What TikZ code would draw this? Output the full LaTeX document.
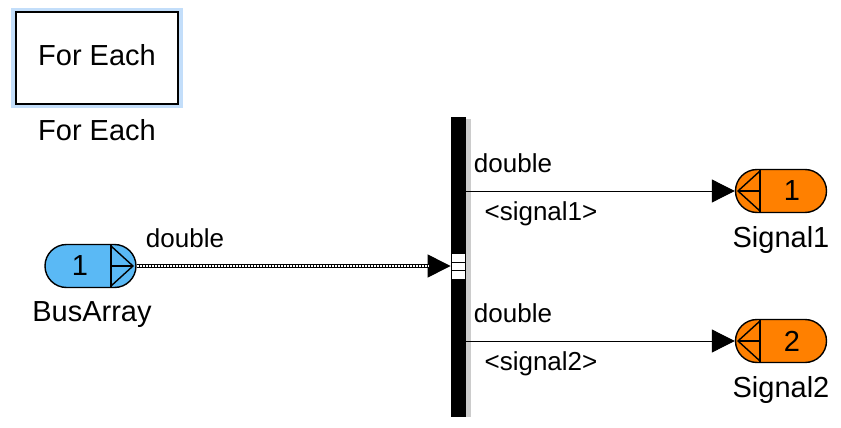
\documentclass[tikz,border=0pt]{standalone}
\usepackage{fontspec}
\setmainfont{Liberation Sans}
\usetikzlibrary{arrows.meta,shapes.misc}
\definecolor{inblue}{RGB}{90,185,245}
\definecolor{outorange}{RGB}{255,128,0}
\definecolor{selglow}{RGB}{195,222,250}
\tikzset{
  port/.style={rounded rectangle, draw, line width=0.7pt, minimum width=45.5pt, minimum height=21.5pt, inner sep=0pt},
  inport/.style={port, fill=inblue},
  outport/.style={port, fill=outorange},
  lbl/.style={font=\fontsize{13}{15}\selectfont},
  blkname/.style={font=\fontsize{14.5}{17}\selectfont},
  sig/.style={line width=0.5pt, -{Triangle[length=11.5pt,width=11.5pt]}},
}
\begin{document}
\begin{tikzpicture}[x=0.5pt,y=-0.5pt]
\useasboundingbox (0,0) rectangle (841,428);
% for each block
\fill[selglow] (11,8) rectangle (183,108);
\node[draw, fill=white, line width=0.8pt, minimum width=81pt, minimum height=46pt, inner sep=0pt] (fe) at (97,58) {};
\node[blkname] (fetext) at (97,55) {For Each};
\node[blkname] (fename) at (97,130) {For Each};
% bus selector
\fill[black!20] (466,119) rectangle (471,417);
\node[fill=black, minimum width=7.5pt, minimum height=150pt, inner sep=0pt] (bsel) at (458.5,267) {};
\fill[white] (452,254) rectangle (465,279);
\draw[line width=0.5pt] (452,262.5) -- (465,262.5); \draw[line width=0.5pt] (452,270.5) -- (465,270.5);
% inport
\node[inport] (in1) at (90.5,266) {};
\draw[line width=0.7pt] (111,245) -- (111,287);
\draw[line width=0.7pt] (111,246) -- (133,266) -- (111,286); \draw[line width=0.7pt] (111,266) -- (133,266);
\node[blkname] (in1num) at (80,266) {1};
\node[blkname] (in1name) at (92,315) {BusArray};
% outports
\node[outport] (out1) at (781,191) {};
\draw[line width=0.7pt] (760,170) -- (760,212);
\draw[line width=0.7pt] (760,171) -- (738,191) -- (760,211); \draw[line width=0.7pt] (738,191) -- (760,191);
\node[blkname] (out1num) at (792,191) {1};
\node[blkname] (out1name) at (781,240) {Signal1};
\node[outport] (out2) at (781,341) {};
\draw[line width=0.7pt] (760,320) -- (760,362);
\draw[line width=0.7pt] (760,321) -- (738,341) -- (760,361); \draw[line width=0.7pt] (738,341) -- (760,341);
\node[blkname] (out2num) at (792,341) {2};
\node[blkname] (out2name) at (781,390) {Signal2};
% signals
\draw[sig] (in1.east) -- (bsel.west |- in1.east);
\draw[line width=2pt, shorten >=11pt] (in1.east) -- (bsel.west |- in1.east);
\draw[white, line width=0.8pt, dash pattern=on 1pt off 0.5pt, shorten >=11pt] (in1.east) -- (bsel.west |- in1.east);
\draw[sig] (bsel.east |- out1.west) -- (out1.west);
\draw[sig] (bsel.east |- out2.west) -- (out2.west);
\node[lbl] (d0) at (185,238) {double};
\node[lbl] (d1) at (513,163) {double};
\node[lbl] (s1) at (541,214) {<signal1>};
\node[lbl] (d2) at (513,313) {double};
\node[lbl] (s2) at (541,364) {<signal2>};
\end{tikzpicture}
\end{document}
